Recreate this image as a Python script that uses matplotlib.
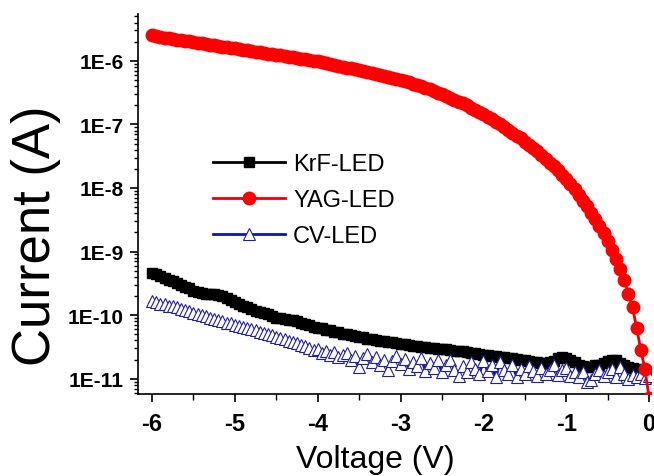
import numpy as np
import matplotlib
matplotlib.use("Agg")
import matplotlib.pyplot as plt
from matplotlib.ticker import FixedLocator, FuncFormatter, MultipleLocator, LogLocator

plt.rcParams['font.family'] = ['Liberation Sans', 'DejaVu Sans']

# voltage sweep, -6 V to 0 V in 0.05 V steps
voltage = np.linspace(-6.0, 0.0, 121)

# log10 of current (A)
krf_log = [
    -9.34, -9.36, -9.38, -9.42, -9.45, -9.47, -9.50, -9.53, -9.55, -9.58,
    -9.62, -9.64, -9.65, -9.66, -9.66, -9.67, -9.68, -9.70, -9.73, -9.76,
    -9.79, -9.82, -9.85, -9.87, -9.90, -9.93, -9.95, -9.97, -9.99, -10.02,
    -10.04, -10.05, -10.06, -10.07, -10.08, -10.10, -10.12, -10.14, -10.16, -10.18,
    -10.20, -10.21, -10.23, -10.24, -10.26, -10.27, -10.29, -10.30, -10.31, -10.33,
    -10.34, -10.35, -10.37, -10.38, -10.39, -10.40, -10.41, -10.42, -10.43, -10.44,
    -10.45, -10.46, -10.47, -10.48, -10.49, -10.50, -10.50, -10.51, -10.52, -10.53,
    -10.53, -10.54, -10.55, -10.56, -10.56, -10.57, -10.58, -10.59, -10.60, -10.61,
    -10.62, -10.63, -10.64, -10.65, -10.66, -10.66, -10.67, -10.68, -10.69, -10.70,
    -10.71, -10.72, -10.73, -10.74, -10.75, -10.75, -10.74, -10.72, -10.68, -10.66,
    -10.67, -10.70, -10.74, -10.78, -10.80, -10.82, -10.81, -10.79, -10.78, -10.75,
    -10.72, -10.70, -10.71, -10.75, -10.79, -10.82, -10.83, -10.84, -10.86, -10.87,
    -10.90,
]

yag_log = [
    -5.60, -5.61, -5.62, -5.635, -5.645, -5.655, -5.665, -5.675, -5.685, -5.695,
    -5.705, -5.715, -5.725, -5.735, -5.745, -5.755, -5.765, -5.775, -5.785, -5.795,
    -5.805, -5.815, -5.825, -5.835, -5.845, -5.855, -5.865, -5.875, -5.885, -5.895,
    -5.905, -5.915, -5.925, -5.935, -5.945, -5.955, -5.965, -5.975, -5.985, -5.995,
    -6.005, -6.015, -6.03, -6.045, -6.06, -6.075, -6.09, -6.105, -6.12, -6.135,
    -6.15, -6.165, -6.18, -6.195, -6.21, -6.225, -6.24, -6.255, -6.27, -6.285,
    -6.30, -6.32, -6.34, -6.36, -6.38, -6.40, -6.425, -6.45, -6.475, -6.50,
    -6.525, -6.55, -6.58, -6.61, -6.64, -6.67, -6.70, -6.735, -6.77, -6.805,
    -6.84, -6.88, -6.92, -6.96, -7.00, -7.04, -7.085, -7.13, -7.175, -7.22,
    -7.27, -7.32, -7.37, -7.425, -7.48, -7.54, -7.60, -7.66, -7.725, -7.79,
    -7.86, -7.94, -8.02, -8.11, -8.20, -8.29, -8.39, -8.49, -8.60, -8.71,
    -8.83, -8.97, -9.12, -9.28, -9.45, -9.66, -9.88, -10.20, -10.55, -10.85,
    -11.30,
]

cv_log = [
    -9.78, -9.80, -9.82, -9.83, -9.85, -9.86, -9.88, -9.90, -9.92, -9.94,
    -9.96, -9.98, -10.00, -10.02, -10.04, -10.06, -10.08, -10.10, -10.12, -10.13,
    -10.15, -10.17, -10.19, -10.21, -10.22, -10.24, -10.26, -10.28, -10.30, -10.31,
    -10.34, -10.36, -10.38, -10.40, -10.42, -10.44, -10.47, -10.49, -10.52, -10.55,
    -10.53, -10.60, -10.56, -10.62, -10.58, -10.66, -10.63, -10.59, -10.70, -10.64,
    -10.82, -10.68, -10.61, -10.74, -10.66, -10.79, -10.70, -10.86, -10.72, -10.64,
    -10.77, -10.69, -10.84, -10.73, -10.80, -10.68, -10.88, -10.75, -10.83, -10.71,
    -10.90, -10.78, -10.70, -10.86, -10.95, -10.80, -10.90, -10.74, -10.85, -10.93,
    -10.72, -10.88, -10.79, -10.98, -10.74, -10.86, -10.92, -10.78, -10.97, -10.84,
    -10.93, -10.80, -10.88, -10.96, -10.83, -10.92, -10.86, -10.78, -10.94, -10.87,
    -10.83, -10.95, -10.89, -10.98, -10.90, -11.05, -11.02, -10.92, -10.86, -10.96,
    -10.90, -10.84, -10.97, -10.82, -10.93, -11.00, -10.94, -10.97, -10.92, -10.99,
    -10.95,
]

labels = ['KrF-LED', 'YAG-LED', 'CV-LED']

krf = 10.0 ** np.array(krf_log)
yag = 10.0 ** np.array(yag_log)
cv = 10.0 ** np.array(cv_log)

fig = plt.figure(figsize=(6.54, 4.77), dpi=100)
ax = fig.add_axes([0.211, 0.172, 0.784, 0.797])

ax.plot(voltage, krf, color='black', lw=2, marker='s', ms=7.5,
        mfc='black', mec='black', label=labels[0], zorder=2)
ax.plot(voltage, yag, color='#e8000b', lw=2, marker='o', ms=9,
        mfc='#ff0000', mec='#ff0000', label=labels[1], zorder=4)
ax.plot(voltage, cv, color='#1010c8', lw=2, marker='^', ms=8.5,
        mfc='white', mec='#20209a', mew=0.8, label=labels[2], zorder=3)

ax.set_yscale('log')
ax.set_xlim(-6.17, 0.02)
ax.set_ylim(10 ** -11.24, 10 ** -5.26)

ax.spines['top'].set_visible(False)
ax.spines['right'].set_visible(False)
ax.spines['left'].set_linewidth(1.2)
ax.spines['bottom'].set_linewidth(1.2)

ax.xaxis.set_major_locator(MultipleLocator(1))
ax.xaxis.set_minor_locator(MultipleLocator(0.5))
ax.xaxis.set_major_formatter(FuncFormatter(lambda v, p: f"{int(round(v))}"))
ax.yaxis.set_major_locator(FixedLocator([1e-11, 1e-10, 1e-9, 1e-8, 1e-7, 1e-6]))
ax.yaxis.set_minor_locator(LogLocator(base=10, subs=np.arange(2, 10), numticks=20))
ax.yaxis.set_major_formatter(FuncFormatter(lambda v, p: f"1E{int(round(np.log10(v)))}"))

ax.tick_params(axis='both', which='major', direction='out', length=6, width=1.2)
ax.tick_params(axis='x', which='major', labelsize=17, pad=7)
ax.tick_params(axis='y', which='major', labelsize=15, pad=4)
ax.tick_params(axis='both', which='minor', direction='out', length=3, width=1)
ax.tick_params(axis='x', which='minor', length=4)
for t in ax.get_xticklabels() + ax.get_yticklabels():
    t.set_fontweight('bold')

ax.set_xlabel('Voltage (V)', fontsize=23, va='bottom')
ax.xaxis.set_label_coords(0.462, -0.21)
ax.set_ylabel('Current (A)', fontsize=38, va='center')
ax.yaxis.set_label_coords(-0.198, 0.42)

ax.legend(loc='upper left', bbox_to_anchor=(0.128, 0.659), frameon=False,
          fontsize=17, numpoints=1, handlelength=3.05, handletextpad=0.34,
          labelspacing=0.6, borderaxespad=0)

fig.savefig('out.png', dpi=100)
